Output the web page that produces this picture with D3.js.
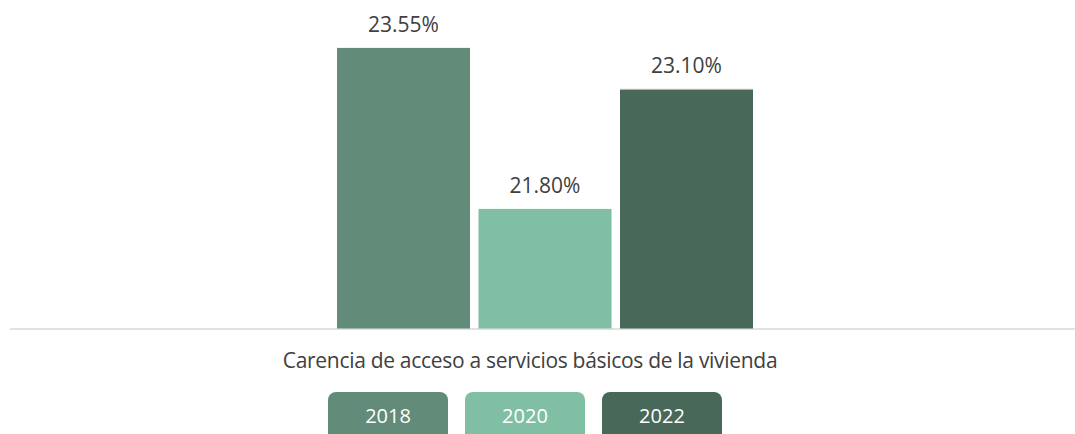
<!DOCTYPE html>
<html>
<head>
<meta charset="utf-8">
<script src="https://cdn.jsdelivr.net/npm/d3@7"></script>
<style>
  body { margin: 0; background: #fff; }
  text { font-family: "Open Sans", "Noto Sans", sans-serif; }
</style>
</head>
<body>
<div id="chart"></div>
<script>
const years = ["2018", "2020", "2022"];
const values = [23.55, 21.80, 23.10];
const colors = ["#628B7A", "#80BFA3", "#486859"];
const category = "Carencia de acceso a servicios básicos de la vivienda";

function init() {
    const w = 1075;
    const h = 434;

    const svg = d3.select("#chart")
        .append("svg")
        .attr("width", w)
        .attr("height", h);

    const x = d3.scaleBand()
        .domain(years)
        .range([337, 753])
        .paddingInner(0.06)
        .paddingOuter(0);

    const y = d3.scaleLinear()
        .domain([20.5, 24])
        .range([328.5, 6.5]);

    // baseline
    svg.append("line")
        .attr("x1", 10)
        .attr("x2", w)
        .attr("y1", 329)
        .attr("y2", 329)
        .attr("stroke", "#d9d9d9")
        .attr("stroke-width", 1.5);

    svg.selectAll("rect.bar")
        .data(values)
        .enter()
        .append("rect")
        .attr("class", "bar")
        .attr("x", (d, i) => x(years[i]))
        .attr("y", d => y(d))
        .attr("width", x.bandwidth())
        .attr("height", d => y.range()[0] - y(d))
        .attr("fill", (d, i) => colors[i]);

    // thin tan edge on the last bar's top
    svg.append("line")
        .attr("x1", x(years[2]))
        .attr("x2", x(years[2]) + x.bandwidth())
        .attr("y1", y(values[2]))
        .attr("y2", y(values[2]))
        .attr("stroke", "#c9b98a")
        .attr("stroke-width", 1);

    svg.selectAll("text.value")
        .data(values)
        .enter()
        .append("text")
        .attr("class", "value")
        .attr("x", (d, i) => x(years[i]) + x.bandwidth() / 2)
        .attr("y", d => y(d) - 16)
        .attr("text-anchor", "middle")
        .attr("font-size", 21)
        .attr("fill", "#404040")
        .text(d => d.toFixed(2) + "%");

    svg.append("text")
        .attr("x", 530)
        .attr("y", 368)
        .attr("text-anchor", "middle")
        .attr("font-size", 21)
        .attr("letter-spacing", -0.3)
        .attr("fill", "#404040")
        .text(category);

    // Legend
    const lx = d3.scaleBand()
        .domain(years)
        .range([328, 722])
        .paddingInner(0.124)
        .paddingOuter(0);

    const lg = svg.selectAll("g.legend")
        .data(years)
        .enter()
        .append("g")
        .attr("class", "legend")
        .attr("transform", d => "translate(" + lx(d) + ",392)");

    lg.append("rect")
        .attr("width", lx.bandwidth())
        .attr("height", 60)
        .attr("rx", 8)
        .attr("fill", (d, i) => colors[i]);

    lg.append("text")
        .attr("x", lx.bandwidth() / 2)
        .attr("y", 31)
        .attr("text-anchor", "middle")
        .attr("font-size", 20)
        .attr("fill", "#ffffff")
        .text(d => d);
}

window.onload = init;
</script>
</body>
</html>
